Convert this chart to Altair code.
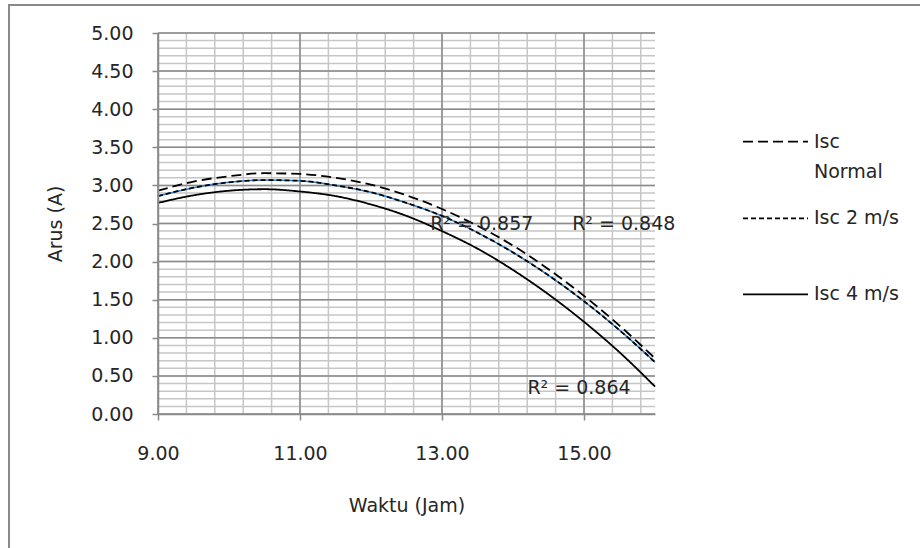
import altair as alt
import numpy as np
import pandas as pd

# Hourly readings (Waktu, jam) and short-circuit current trend values (Arus, A)
hours = [9.0, 9.5, 10.0, 10.5, 11.0, 11.5, 12.0, 12.5, 13.0, 13.5, 14.0, 14.5, 15.0, 15.5, 16.0]
isc_normal = [2.93, 3.05, 3.12, 3.16, 3.15, 3.10, 3.01, 2.87, 2.69, 2.47, 2.21, 1.90, 1.55, 1.16, 0.73]
isc_2ms = [2.86, 2.97, 3.04, 3.07, 3.06, 3.00, 2.91, 2.77, 2.60, 2.38, 2.12, 1.82, 1.48, 1.10, 0.68]
isc_4ms = [2.77, 2.87, 2.93, 2.95, 2.92, 2.86, 2.75, 2.60, 2.40, 2.17, 1.89, 1.57, 1.21, 0.81, 0.36]

series_names = ["Isc Normal", "Isc 2 m/s", "Isc 4 m/s"]
r_squared = ["R² = 0.848", "R² = 0.857", "R² = 0.864"]

x_ticks = [9, 11, 13, 15]
y_ticks = [0, 0.5, 1, 1.5, 2, 2.5, 3, 3.5, 4, 4.5, 5]

FONT = "DejaVu Sans"
FS = 19
TXT = "#262626"
GRID_MAJOR = "#8a8a8a"
GRID_MINOR = "#c6c6c6"
W, H = 497, 381
PAD_L, PAD_T = 158, 33

rows = []
for name, vals in zip(series_names, [isc_normal, isc_2ms, isc_4ms]):
    for h, v in zip(hours, vals):
        rows.append({"Waktu": h, "Arus": v, "Seri": name})
df = pd.DataFrame(rows)

x_scale = alt.Scale(domain=[9, 16], nice=False, zero=False)
y_scale = alt.Scale(domain=[0, 5], nice=False)

x_axis = alt.Axis(
    values=x_ticks, format=".2f", grid=False, zindex=1, labelFlush=False,
    domainColor=GRID_MAJOR, domainWidth=1.5,
    tickColor=GRID_MAJOR, tickWidth=1.5, tickSize=6,
    labelFont=FONT, labelFontSize=FS, labelColor=TXT, labelPadding=24,
    title="Waktu (Jam)", titleFont=FONT, titleFontSize=FS, titleFontWeight="normal",
    titleColor=TXT, titleY=91, titleBaseline="middle",
)
y_axis = alt.Axis(
    values=y_ticks, format=".2f", grid=False, zindex=1, labelFlush=False,
    domainColor=GRID_MAJOR, domainWidth=1.5,
    tickColor=GRID_MAJOR, tickWidth=1.5, tickSize=6,
    labelFont=FONT, labelFontSize=FS, labelColor=TXT, labelPadding=19,
    title="Arus (A)", titleFont=FONT, titleFontSize=FS, titleFontWeight="normal",
    titleColor=TXT, titleX=-103, titleY=H / 2, titleBaseline="middle", titleAngle=270,
)


def X(field):
    return alt.X(field, type="quantitative", scale=x_scale, axis=x_axis)


def Y(field):
    return alt.Y(field, type="quantitative", scale=y_scale, axis=y_axis)


# grid: minor lines every 0.4 h / 0.1 A, major every 2 h / 0.5 A
x_minor = pd.DataFrame({"g": np.round(np.arange(9, 16.001, 0.4), 2)})
y_minor = pd.DataFrame({"g": np.round(np.arange(0, 5.001, 0.1), 2)})
x_major = pd.DataFrame({"g": x_ticks})
y_major = pd.DataFrame({"g": y_ticks})

one = pd.DataFrame({"a": [0]})

frame = alt.Chart(one).mark_rect(filled=False, stroke=GRID_MAJOR, strokeWidth=2).encode(
    x=alt.value(9 - PAD_L), x2=alt.value(1000), y=alt.value(5 - PAD_T), y2=alt.value(700)
)

gx_minor = alt.Chart(x_minor).mark_rule(color=GRID_MINOR, strokeWidth=1.5).encode(x=X("g"))
gy_minor = alt.Chart(y_minor).mark_rule(color=GRID_MINOR, strokeWidth=1.5).encode(y=Y("g"))
gx_major = alt.Chart(x_major).mark_rule(color=GRID_MAJOR, strokeWidth=1.5).encode(x=X("g"))
gy_major = alt.Chart(y_major).mark_rule(color=GRID_MAJOR, strokeWidth=1.5).encode(y=Y("g"))

# blue series line beneath the short-dash trend
blue = alt.Chart(df[df["Seri"] == "Isc 2 m/s"]).mark_line(
    color="#2e7cc4", strokeWidth=1.5, interpolate="monotone"
).encode(x=X("Waktu"), y=Y("Arus"))

trend = alt.Chart(df).mark_line(color="black", strokeWidth=1.8, interpolate="monotone").encode(
    x=X("Waktu"),
    y=Y("Arus"),
    detail="Seri:N",
    strokeDash=alt.StrokeDash(
        "Seri:N",
        scale=alt.Scale(domain=series_names, range=[[10, 5], [5, 3], [1, 0]]),
        legend=None,
    ),
)

# R² annotations
ann = pd.DataFrame({
    "Waktu": [15.56, 13.56, 14.93],
    "Arus": [2.50, 2.50, 0.345],
    "label": r_squared,
})
r2 = alt.Chart(ann).mark_text(font=FONT, fontSize=FS, color=TXT, align="center", baseline="middle").encode(
    x=X("Waktu"), y=Y("Arus"), text="label:N"
)

# legend drawn beside the plot
legend_layers = []
legend_rows = [
    ([10, 5], 141.7, "Isc\nNormal", 141.7),
    ([5, 3], 218.3, "Isc 2 m/s", 218.3),
    ([1, 0], 294.3, "Isc 4 m/s", 294.3),
]
for dash, ly, label, ty in legend_rows:
    legend_layers.append(
        alt.Chart(one).mark_rule(color="black", strokeWidth=1.8, strokeDash=dash).encode(
            x=alt.value(743 - PAD_L), x2=alt.value(808 - PAD_L), y=alt.value(ly - PAD_T)
        )
    )
    legend_layers.append(
        alt.Chart(one).mark_text(
            font=FONT, fontSize=FS, color=TXT, align="left", baseline="middle",
            lineBreak="\n", lineHeight=30,
        ).encode(x=alt.value(814 - PAD_L), y=alt.value(ty - PAD_T), text=alt.value(label))
    )

chart = alt.layer(
    frame, gx_minor, gy_minor, gx_major, gy_major, blue, trend, r2, *legend_layers
).properties(
    width=W, height=H,
    autosize=alt.AutoSizeParams(type="none"),
    padding={"left": PAD_L, "top": PAD_T, "right": 920 - PAD_L - W, "bottom": 548 - PAD_T - H},
    background="white",
).configure_view(stroke=None)

chart.save("out.html", embed_options={"renderer": "svg", "actions": False})
